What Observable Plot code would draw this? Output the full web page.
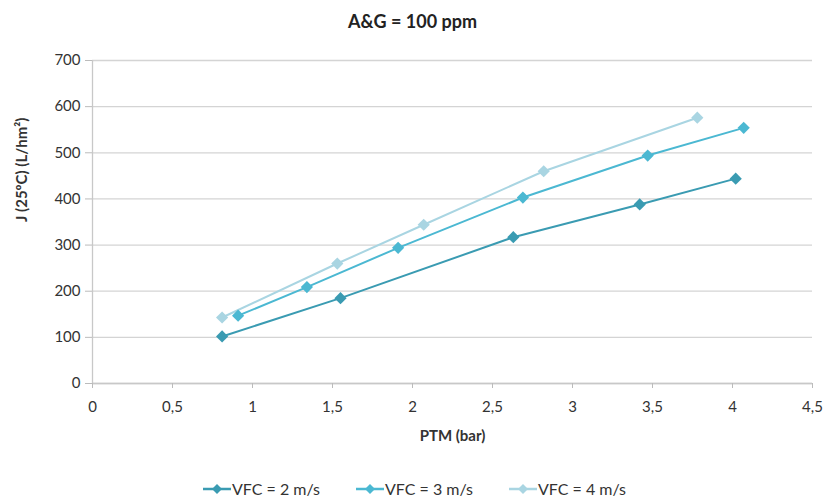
<!DOCTYPE html>
<html><head><meta charset="utf-8">
<script src="https://cdn.jsdelivr.net/npm/d3@7"></script>
<script src="https://cdn.jsdelivr.net/npm/@observablehq/plot@0.6"></script>
<style>
body{margin:0;background:#fff;font-family:Lato,"Open Sans",sans-serif;}
#wrap{width:825px;}
#title{height:40px;line-height:42px;text-align:center;font-weight:bold;font-size:18px;color:#222;}
#legend{display:flex;justify-content:center;gap:36px;font-size:16px;color:#333;margin-top:19px;padding-left:4px;}
#legend span{display:flex;align-items:center;gap:1px;}
</style></head>
<body><div id="wrap"><div id="title">A&amp;G = 100 ppm</div><div id="chart"></div><div id="legend"></div></div>
<script>
const seriesNames = ["VFC = 2 m/s","VFC = 3 m/s","VFC = 4 m/s"];
const colors = ["#3a9bb2","#4bb8d2","#a9d5e2"];
const ptm2 = [0.81,1.55,2.63,3.42,4.02];
const j2 = [102,185,317,388,444];
const ptm3 = [0.91,1.34,1.91,2.69,3.47,4.07];
const j3 = [147,209,294,403,494,554];
const ptm4 = [0.81,1.53,2.07,2.82,3.78];
const j4 = [143,260,344,460,576];
const xTicks = [0,0.5,1,1.5,2,2.5,3,3.5,4,4.5];
const yTicks = [0,100,200,300,400,500,600,700];

const data = [];
[[ptm2,j2],[ptm3,j3],[ptm4,j4]].forEach(([xs,ys],k)=>xs.forEach((x,i)=>data.push({s:seriesNames[k],x,y:ys[i]})));

const chart = Plot.plot({
  width:825, height:420,
  marginLeft:92, marginRight:13, marginTop:20, marginBottom:77,
  style:{fontFamily:"Lato, 'Open Sans', sans-serif", fontSize:"15px", color:"#333"},
  x:{domain:[0,4.5], ticks:xTicks, tickFormat:d=>String(d).replace(".",","), label:null},
  y:{domain:[0,700], ticks:yTicks, label:null},
  color:{domain:seriesNames, range:colors},
  marks:[
    Plot.gridY(yTicks,{stroke:"#d4d4d4", strokeOpacity:1, strokeWidth:1.3}),
    Plot.ruleX([0],{stroke:"#c8c8c8", strokeWidth:1.3}),
    Plot.ruleY([0],{stroke:"#c8c8c8", strokeWidth:1.3}),
    Plot.axisY(yTicks,{tickSize:7, tickPadding:5, stroke:"#bbb", fontSize:15, fill:"#333"}),
    Plot.axisX(xTicks,{tickSize:5, tickPadding:13, stroke:"#bbb", fontSize:15, fill:"#333", tickFormat:d=>String(d).replace(".",",")}),
    Plot.line(data,{x:"x",y:"y",z:"s",stroke:"s",strokeWidth:2}),
    Plot.dot(data,{x:"x",y:"y",fill:"s",symbol:"diamond2",r:5.5}),
    Plot.text(["PTM (bar)"],{frameAnchor:"bottom",dy:57,fontWeight:"bold",fontSize:15,fill:"#333"}),
    Plot.text(["J (25ºC) (L/hm²)"],{frameAnchor:"left",dx:-70,rotate:-90,fontWeight:"bold",fontSize:15,fill:"#333"})
  ]
});
document.getElementById("chart").append(chart);

const lg = document.getElementById("legend");
seriesNames.forEach((n,i)=>{
  const s=document.createElement("span");
  s.innerHTML=`<svg width="28" height="14"><line x1="0" y1="7" x2="28" y2="7" stroke="${colors[i]}" stroke-width="2.5"/><path d="M14 2 L19 7 L14 12 L9 7Z" fill="${colors[i]}"/></svg>${n}`;
  lg.append(s);
});
</script></body></html>
